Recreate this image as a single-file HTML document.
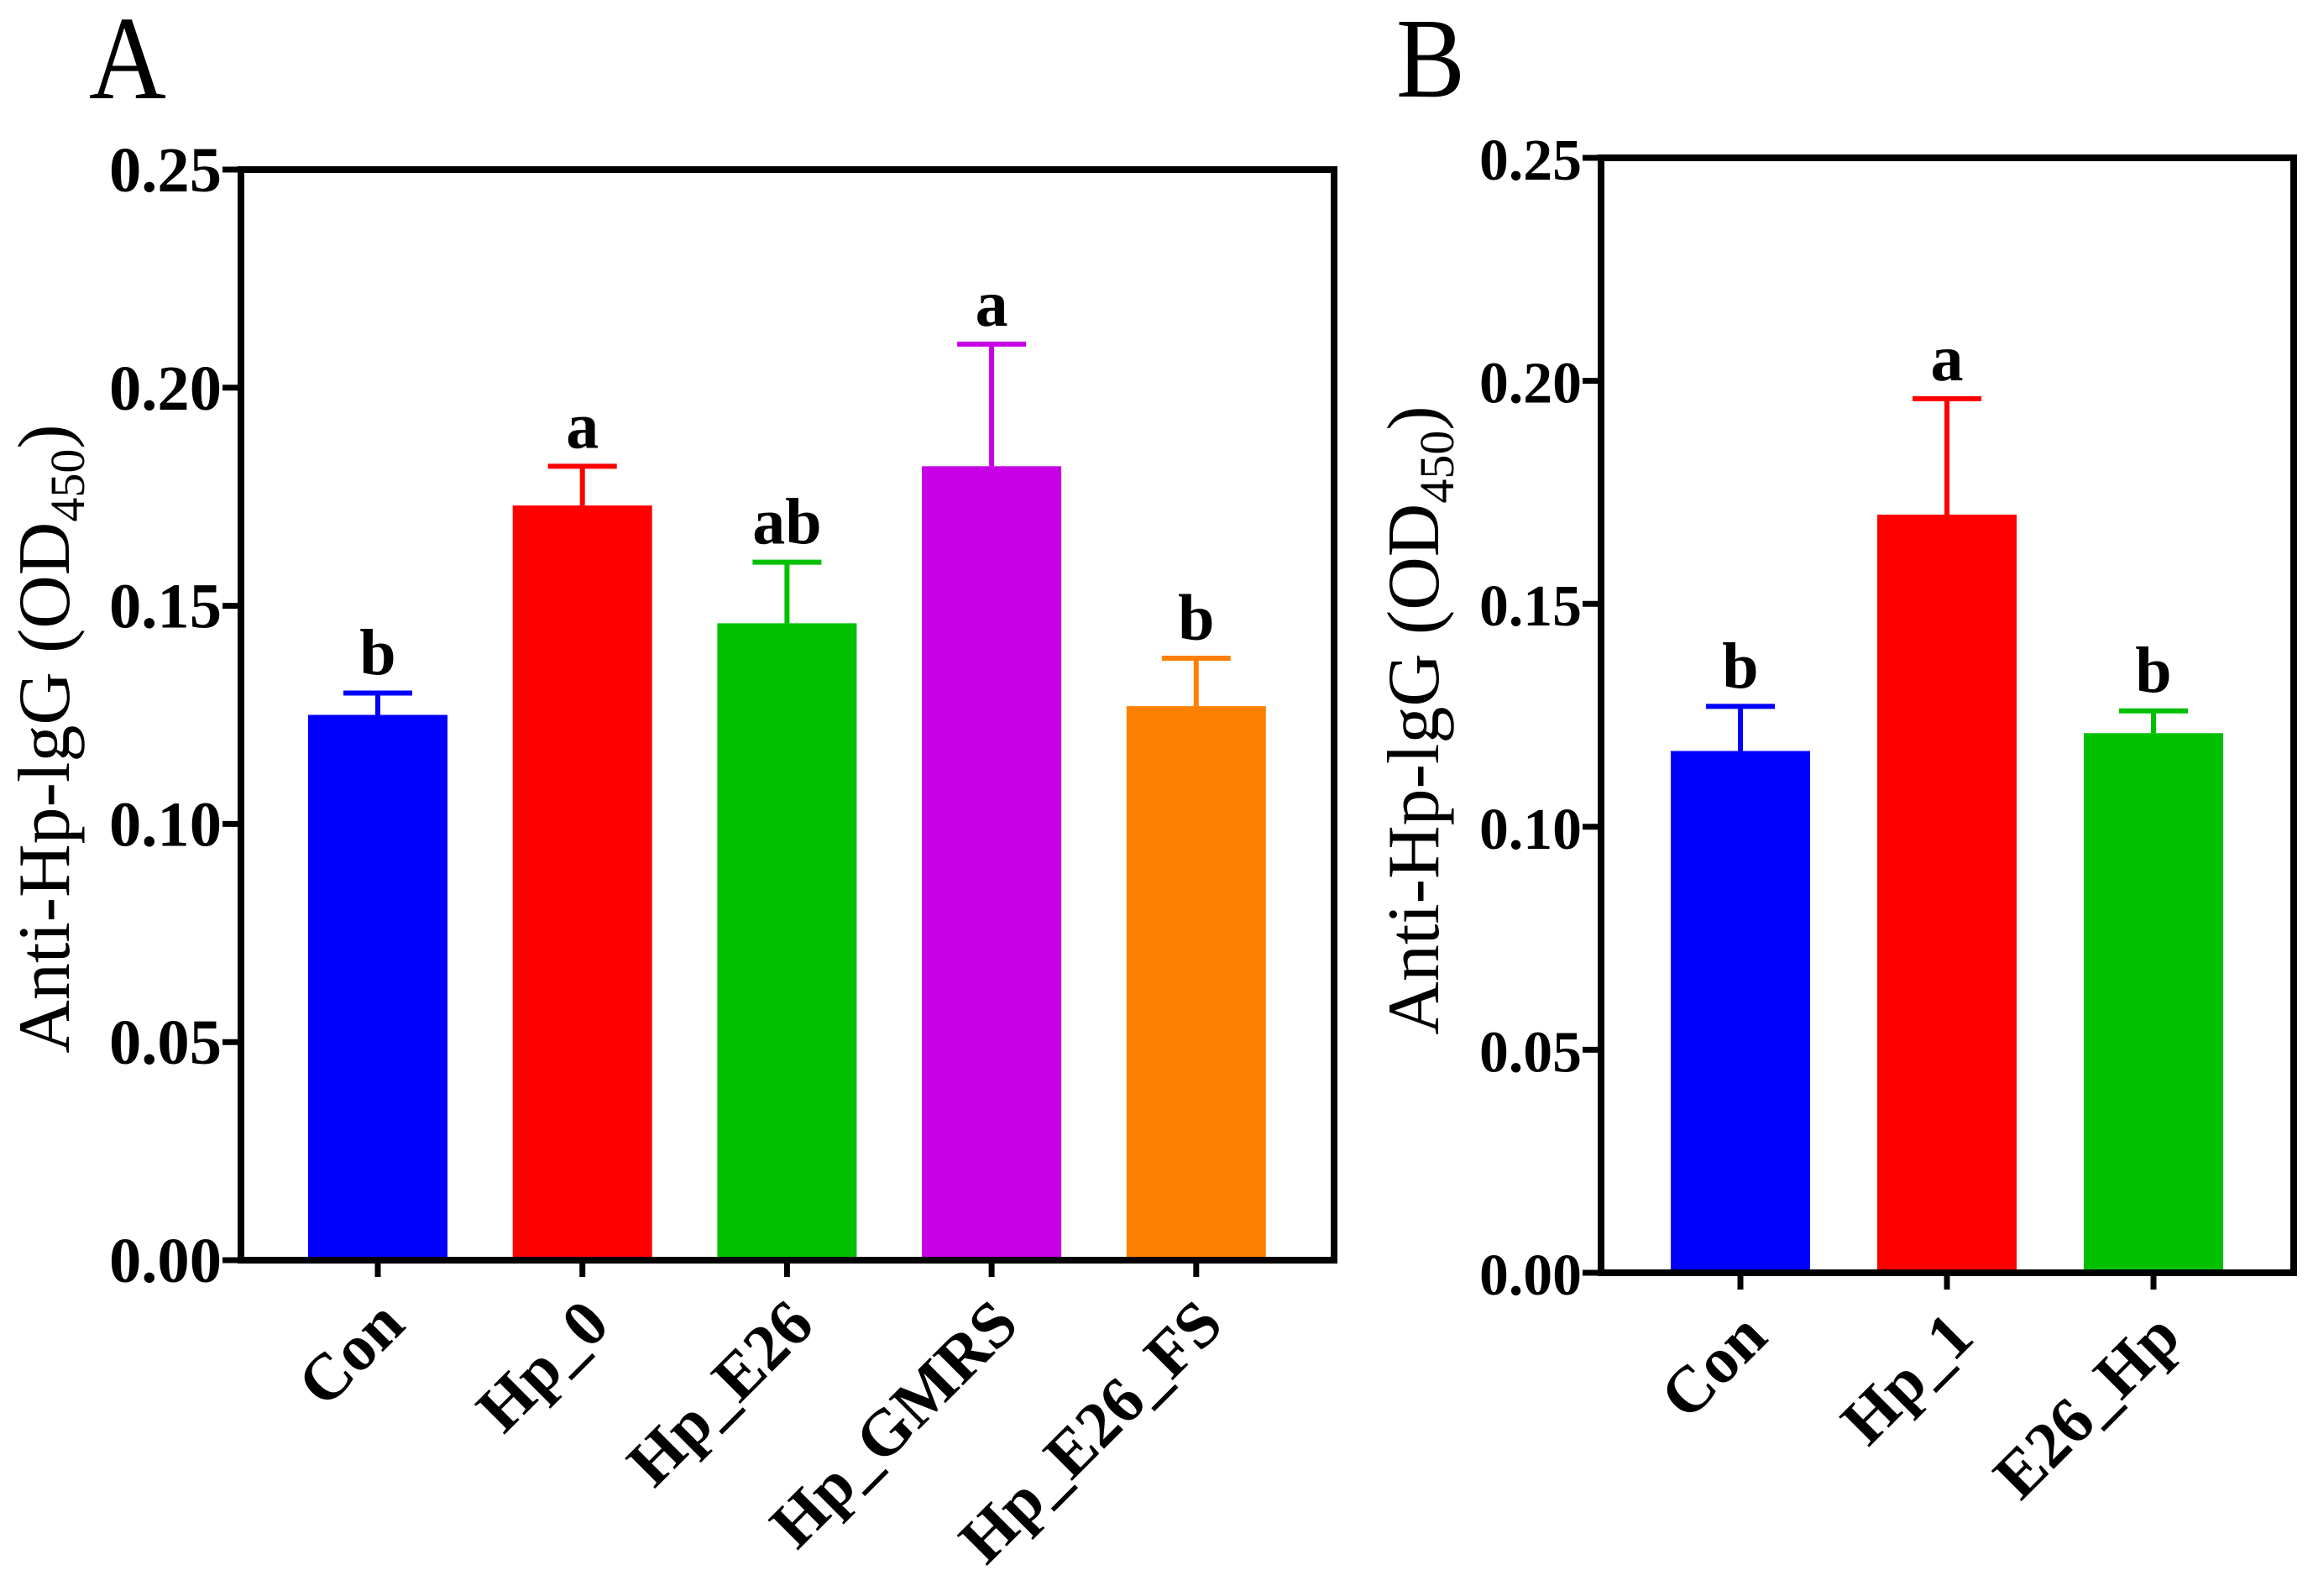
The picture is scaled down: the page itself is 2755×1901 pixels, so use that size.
<!DOCTYPE html>
<html><head><meta charset="utf-8">
<style>html,body{margin:0;padding:0;background:#fff}svg{display:block}</style></head>
<body>
<svg id="fig" xmlns="http://www.w3.org/2000/svg" width="2755" height="1901" viewBox="0 0 2755 1901">
<rect width="2755" height="1901" fill="#fff"/>
<text x="106" y="117" font-family="Liberation Serif, serif" font-size="142" textLength="92" lengthAdjust="spacingAndGlyphs">A</text>
<text x="1663" y="115" font-family="Liberation Serif, serif" font-size="136" textLength="82" lengthAdjust="spacingAndGlyphs">B</text>
<g id="pa"></g>
<g id="pb"></g>
</svg>
<script>
const catsA = ["Con","Hp_0","Hp_E26","Hp_GMRS","Hp_E26_FS"];
const valsA = [0.125,0.173,0.146,0.182,0.127];
const errA = [0.005,0.009,0.014,0.028,0.011];
const sigA = ["b","a","ab","a","b"];
const colorsA = ["#0000ff","#ff0000","#00c000","#c800e6","#ff8000"];
const catsB = ["Con","Hp_1","E26_Hp"];
const valsB = [0.117,0.170,0.121];
const errB = [0.010,0.026,0.005];
const sigB = ["b","a","b"];
const colorsB = ["#0000ff","#ff0000","#00c000"];
const ticks = [0,0.05,0.10,0.15,0.20,0.25];
const tickLabels = ["0.00","0.05","0.10","0.15","0.20","0.25"];
const NS="http://www.w3.org/2000/svg";
function mk(p,tag,attrs,txt){const e=document.createElementNS(NS,tag);for(const k in attrs)e.setAttribute(k,attrs[k]);if(txt!==undefined)e.textContent=txt;p.appendChild(e);return e;}
function draw(g,cfg,cats,vals,errs,sigs,cols){
  const {L,R,T,B,x0,step,bw,tickFs,tickW,lblX,lblY}=cfg;
  const y=v=>B-(v/0.25)*(B-T);
  const x=i=>x0+i*step;
  for(let i=0;i<cats.length;i++){
    const cx=x(i), top=y(vals[i]), et=y(vals[i]+errs[i]);
    const bar=mk(g,'rect',{x:cx-bw/2,y:top,width:bw,height:B-top,fill:cols[i]});
    
    
    const el=mk(g,'line',{x1:cx,y1:top,x2:cx,y2:et,stroke:cols[i],'stroke-width':6});
    
    
    const ec=mk(g,'line',{x1:cx-41,y1:et,x2:cx+41,y2:et,stroke:cols[i],'stroke-width':6});
    
    
    const s=mk(g,'text',{x:cx,y:et-22,'text-anchor':'middle','font-family':'Liberation Serif, serif','font-weight':'bold','font-size':78},sigs[i]);
    
    
    const tk=mk(g,'line',{x1:cx,y1:B,x2:cx,y2:B+20,stroke:'#000','stroke-width':7});
    
    
    const ax=cx+35, ay=B+80;
    const lb=mk(g,'text',{x:ax,y:ay,'text-anchor':'end','font-family':'Liberation Serif, serif','font-weight':'bold','font-size':78,transform:`rotate(-45 ${ax} ${ay})`},cats[i]);
    
    
  }
  for(let j=0;j<ticks.length;j++){
    const ty=y(ticks[j]);
    const t=mk(g,'line',{x1:L-22,y1:ty,x2:L,y2:ty,stroke:'#000','stroke-width':7});
    
    
    const tl=mk(g,'text',{x:L-23,y:ty+26,'text-anchor':'end','font-family':'Liberation Serif, serif','font-weight':'bold','font-size':tickFs,textLength:tickW,lengthAdjust:'spacingAndGlyphs'},tickLabels[j]);
    
    
  }
  const fr=mk(g,'rect',{x:L,y:T,width:R-L,height:B-T,fill:'none',stroke:'#000','stroke-width':8});
  
  
  const yl=mk(g,'text',{x:lblX,y:lblY,'text-anchor':'middle','font-family':'Liberation Serif, serif','font-size':88,transform:`rotate(-90 ${lblX} ${lblY})`});
  
  
  mk(yl,'tspan',{},'Anti-Hp-lgG (OD');
  mk(yl,'tspan',{'font-size':58,dy:18},'450');
  mk(yl,'tspan',{dy:-18},')');
}
draw(document.getElementById('pa'),{L:287,R:1589,T:202,B:1501,x0:450,step:243.7,bw:166,tickFs:76,tickW:134,lblX:82,lblY:880},catsA,valsA,errA,sigA,colorsA);
draw(document.getElementById('pb'),{L:1907,R:2732,T:188,B:1516,x0:2073,step:246,bw:166,tickFs:70,tickW:122,lblX:1713,lblY:858},catsB,valsB,errB,sigB,colorsB);
</script>
</body></html>
